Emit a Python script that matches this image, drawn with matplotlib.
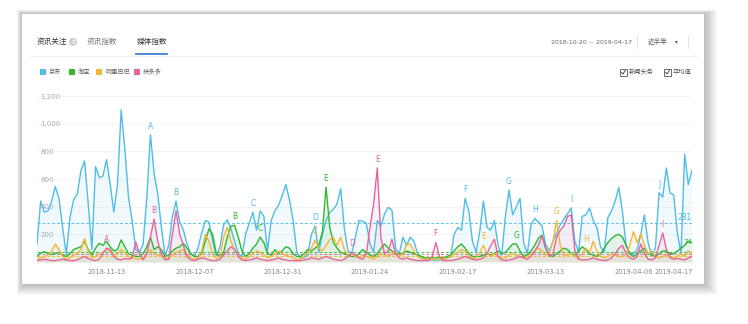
import numpy as np
import pandas as pd
import matplotlib
matplotlib.use('Agg')
import matplotlib.pyplot as plt
import matplotlib.dates as mdates
from matplotlib.patches import Rectangle, Ellipse
from matplotlib.lines import Line2D

plt.rcParams['font.family'] = ['Noto Sans CJK SC', 'DejaVu Sans']

# ---- data (daily media index) ----
dates = pd.date_range('2018-10-25', periods=180)
series_names = ['京东', '淘宝', '阿里巴巴', '拼多多']
colors = ['#4fbde6', '#2eb82e', '#f4b63a', '#e8649e']

jd = [130, 440, 360, 370, 440, 545, 460, 250, 55, 320,
      450, 490, 660, 730, 420, 90, 690, 610, 620, 740,
      560, 360, 560, 1100, 820, 470, 300, 90, 70, 130,
      460, 920, 640, 490, 250, 45, 120, 330, 440, 290,
      230, 130, 60, 40, 100, 210, 300, 290, 150, 45,
      110, 270, 305, 240, 150, 60, 40, 200, 280, 360,
      230, 370, 330, 80, 300, 370, 410, 480, 560, 450,
      300, 70, 30, 30, 50, 200, 260, 70, 200, 300,
      360, 380, 420, 530, 240, 80, 60, 180, 300, 295,
      280, 130, 70, 300, 260, 350, 395, 375, 100, 60,
      180, 120, 180, 150, 60, 40, 25, 15, 15, 15,
      15, 15, 30, 35, 200, 250, 230, 460, 370, 150,
      70, 220, 440, 250, 230, 300, 120, 50, 330, 520,
      340, 400, 460, 140, 60, 270, 315, 290, 260, 130,
      80, 150, 210, 270, 310, 350, 390, 150, 70, 330,
      340, 390, 300, 250, 110, 70, 320, 370, 440, 540,
      360, 120, 60, 60, 90, 200, 340, 140, 45, 100,
      500, 470, 680, 500, 485, 210, 60, 780, 560, 665]

tb = [40, 65, 75, 60, 55, 60, 70, 50, 40, 60,
      90, 100, 110, 150, 90, 50, 100, 135, 120, 150,
      110, 80, 90, 160, 110, 60, 50, 40, 40, 60,
      110, 180, 90, 110, 90, 40, 50, 80, 100, 110,
      135, 100, 60, 40, 40, 60, 150, 240, 200, 60,
      40, 70, 180, 260, 265, 180, 80, 40, 60, 100,
      130, 180, 140, 60, 50, 90, 60, 80, 110, 100,
      60, 40, 40, 60, 90, 80, 100, 120, 220, 540,
      250, 140, 100, 70, 60, 50, 40, 40, 60, 90,
      70, 50, 40, 60, 100, 130, 100, 80, 60, 60,
      60, 80, 70, 60, 50, 40, 30, 30, 30, 30,
      30, 30, 40, 50, 80, 110, 130, 100, 60, 40,
      40, 40, 50, 60, 50, 60, 80, 60, 70, 100,
      130, 130, 80, 40, 50, 80, 120, 170, 195, 100,
      50, 40, 60, 80, 100, 90, 60, 50, 80, 110,
      90, 60, 50, 40, 60, 100, 140, 170, 190, 200,
      180, 120, 60, 40, 60, 80, 100, 60, 50, 40,
      60, 80, 80, 60, 60, 80, 100, 120, 150, 140]

alibaba = [20, 30, 40, 50, 80, 130, 90, 40, 20, 30,
           50, 60, 90, 170, 80, 30, 40, 60, 70, 90,
           80, 50, 60, 90, 70, 40, 30, 25, 20, 30,
           60, 90, 60, 50, 40, 25, 30, 50, 70, 80,
           90, 60, 30, 20, 30, 80, 200, 150, 60, 25,
           40, 180, 250, 150, 90, 50, 30, 20, 40, 60,
           80, 70, 50, 30, 40, 60, 80, 60, 50, 40,
           30, 20, 20, 40, 70, 100, 160, 100, 80, 120,
           160, 180, 120, 180, 90, 50, 60, 40, 30, 50,
           40, 30, 20, 40, 60, 50, 40, 60, 80, 40,
           60, 130, 130, 80, 40, 25, 20, 20, 20, 20,
           20, 20, 25, 40, 60, 70, 90, 80, 40, 25,
           30, 70, 120, 60, 40, 60, 40, 25, 30, 50,
           60, 50, 40, 30, 40, 60, 80, 100, 80, 50,
           60, 150, 300, 120, 50, 50, 60, 40, 30, 60,
           100, 70, 150, 80, 40, 30, 40, 60, 50, 40,
           40, 60, 120, 220, 140, 205, 120, 60, 80, 40,
           30, 40, 50, 40, 30, 40, 60, 40, 80, 60]

pdd = [10, 15, 20, 15, 10, 10, 15, 20, 15, 10,
       10, 15, 30, 40, 25, 15, 10, 20, 60, 100,
       90, 40, 20, 15, 25, 20, 30, 145, 60, 15,
       60, 180, 310, 150, 60, 15, 20, 200, 370, 200,
       120, 40, 15, 10, 20, 30, 25, 15, 10, 10,
       20, 50, 80, 110, 90, 40, 15, 10, 15, 20,
       30, 20, 15, 10, 15, 20, 30, 20, 15, 10,
       10, 10, 10, 15, 20, 30, 25, 20, 30, 40,
       30, 20, 15, 10, 20, 40, 70, 50, 30, 20,
       60, 250, 420, 680, 170, 60, 80, 165, 60, 30,
       20, 30, 20, 15, 10, 10, 10, 10, 40, 140,
       40, 10, 10, 10, 15, 20, 30, 40, 30, 20,
       15, 20, 30, 60, 120, 165, 40, 15, 10, 15,
       20, 30, 40, 30, 20, 40, 80, 120, 190, 100,
       40, 60, 180, 230, 260, 330, 340, 80, 20, 15,
       15, 20, 30, 20, 15, 10, 15, 30, 60, 100,
       120, 60, 30, 20, 40, 130, 60, 20, 15, 30,
       120, 210, 90, 30, 20, 25, 20, 15, 30, 40]

averages = [281, 74, 45, 60]

# event markers: (series index, day index, letter)
events = [(0, 31, 'A'), (0, 38, 'B'), (0, 59, 'C'), (0, 76, 'D'), (0, 117, 'F'),
          (0, 129, 'G'), (0, 136, 'H'), (0, 146, 'I'), (0, 170, 'J'),
          (1, 54, 'B'), (1, 61, 'C'), (1, 79, 'E'), (1, 131, 'G'),
          (2, 76, 'C'), (2, 122, 'E'), (2, 142, 'G'), (2, 150, 'H'),
          (3, 19, 'A'), (3, 32, 'B'), (3, 86, 'D'), (3, 93, 'E'), (3, 109, 'F'), (3, 171, 'I')]

tick_dates = ['2018-11-13', '2018-12-07', '2018-12-31', '2019-01-24',
              '2019-02-17', '2019-03-13', '2019-04-06', '2019-04-17']

W, H = 748, 324
fig = plt.figure(figsize=(W / 100, H / 100), dpi=100)
fig.set_facecolor('white')


def fx(x):
    return x / W


def fy(y):
    return 1 - y / H


# card + shadow
L, T, R, B = 22, 14, 704, 284
for k in range(1, 12):
    fig.add_artist(Rectangle((fx(L - 0.5 * k), fy(B + 1.0 * k)),
                             (R - L + 1.7 * k) / W, (B - T + 1.4 * k) / H,
                             transform=fig.transFigure, facecolor='#000000',
                             edgecolor='none', alpha=0.025, zorder=-3))
fig.add_artist(Rectangle((fx(L), fy(B)), (R - L) / W, (B - T) / H,
                         transform=fig.transFigure, facecolor='white',
                         edgecolor='none', zorder=-2))

# header
fig.text(fx(37), fy(42), '资讯关注', fontsize=5.5, color='#333333', va='center')
fig.add_artist(Ellipse((fx(73), fy(42)), 8 / W, 8 / H, transform=fig.transFigure,
                       facecolor='#cfcfcf', edgecolor='none'))
fig.text(fx(73), fy(42), '?', fontsize=4.5, color='white', ha='center', va='center',
         fontweight='bold', family='DejaVu Sans')
fig.text(fx(87), fy(42), '资讯指数', fontsize=5.5, color='#777777', va='center')
fig.text(fx(137), fy(42), '媒体指数', fontsize=5.5, color='#333333', va='center')
fig.add_artist(Line2D([fx(136), fx(167)], [fy(54), fy(54)], transform=fig.transFigure,
                      color='#3c7fd8', lw=1.3))
fig.add_artist(Line2D([fx(30), fx(697)], [fy(55.5), fy(55.5)], transform=fig.transFigure,
                      color='#ececec', lw=0.6))
fig.text(fx(551), fy(42), '2018-10-20 ~ 2019-04-17', fontsize=4.5, color='#666666',
         va='center', family='DejaVu Sans')
fig.add_artist(Line2D([fx(637), fx(637)], [fy(36), fy(48)], transform=fig.transFigure,
                      color='#e0e0e0', lw=0.6))
fig.text(fx(648), fy(42), '近半年', fontsize=4.8, color='#555555', va='center')
fig.text(fx(675), fy(42), '▾', fontsize=4, color='#555555', va='center', family='DejaVu Sans')
fig.add_artist(Line2D([fx(688), fx(688)], [fy(36), fy(48)], transform=fig.transFigure,
                      color='#e0e0e0', lw=0.6))

# legend
leg_x = [40, 69, 96, 134]
for name, c, x in zip(series_names, colors, leg_x):
    fig.add_artist(Rectangle((fx(x), fy(75)), 6 / W, 6 / H, transform=fig.transFigure,
                             facecolor=c, edgecolor='none'))
    fig.text(fx(x + 9), fy(72), name, fontsize=4.5, color='#666666', va='center')

# checkboxes
for x, label in [(620, '新闻头条'), (664, '平均值')]:
    fig.add_artist(Rectangle((fx(x), fy(75.5)), 6.5 / W, 6.5 / H, transform=fig.transFigure,
                             facecolor='white', edgecolor='#555555', lw=0.6))
    fig.add_artist(Line2D([fx(x + 1.5), fx(x + 3), fx(x + 5.3)],
                          [fy(72.3), fy(74), fy(70.5)], transform=fig.transFigure,
                          color='#333333', lw=0.6))
    fig.text(fx(x + 9), fy(72), label, fontsize=4.5, color='#555555', va='center')

# chart
ax = fig.add_axes([fx(37), fy(262), (692 - 37) / W, (262 - 96) / H])
ax.set_facecolor('none')
data = [jd, tb, alibaba, pdd]
for vals, c in zip(data, colors):
    ax.fill_between(dates, 0, vals, color=c, alpha=0.08, lw=0, zorder=2)
for vals, c in zip(data, colors):
    ax.plot(dates, vals, color=c, lw=1.0, zorder=3, solid_joinstyle='round')
for avg, c in zip(averages, colors):
    ax.axhline(avg, color=c, lw=0.7, ls=(0, (3, 2)), zorder=2.5, alpha=0.9)
ax.text(dates[-1], averages[0] + 8, str(averages[0]), color=colors[0], fontsize=5.5,
        ha='right', va='bottom', family='DejaVu Sans')
ax.text(dates[-1], averages[1] + 50, str(averages[1]), color=colors[1], fontsize=5,
        ha='right', va='bottom', family='DejaVu Sans')

for si, di, letter in events:
    ax.annotate(letter, (dates[di], data[si][di]), xytext=(0, 3),
                textcoords='offset points', ha='center', va='bottom',
                fontsize=5.5, color=colors[si], family='DejaVu Sans', zorder=4)

ax.set_xlim(dates[0], dates[-1])
ax.set_ylim(0, 1200)
ax.set_yticks([200, 400, 600, 800, 1000, 1200])
ax.set_yticklabels(['200', '400', '600', '800', '1,000', '1,200'])
ax.set_xticks(pd.to_datetime(tick_dates))
ax.xaxis.set_major_formatter(mdates.DateFormatter('%Y-%m-%d'))
ax.tick_params(axis='x', length=0, pad=5, labelsize=4.8, labelcolor='#888888')
ax.tick_params(axis='y', length=0, pad=-2.5, labelsize=5, labelcolor='#aaaaaa')
for lab in ax.get_yticklabels():
    lab.set_horizontalalignment('left')
    lab.set_family('DejaVu Sans')
for lab in ax.get_xticklabels():
    lab.set_family('DejaVu Sans')
ax.grid(axis='y', color='#f3f3f3', lw=0.6)
ax.set_axisbelow(True)
for s in ax.spines.values():
    s.set_visible(False)

fig.savefig('out.png', dpi=100)
